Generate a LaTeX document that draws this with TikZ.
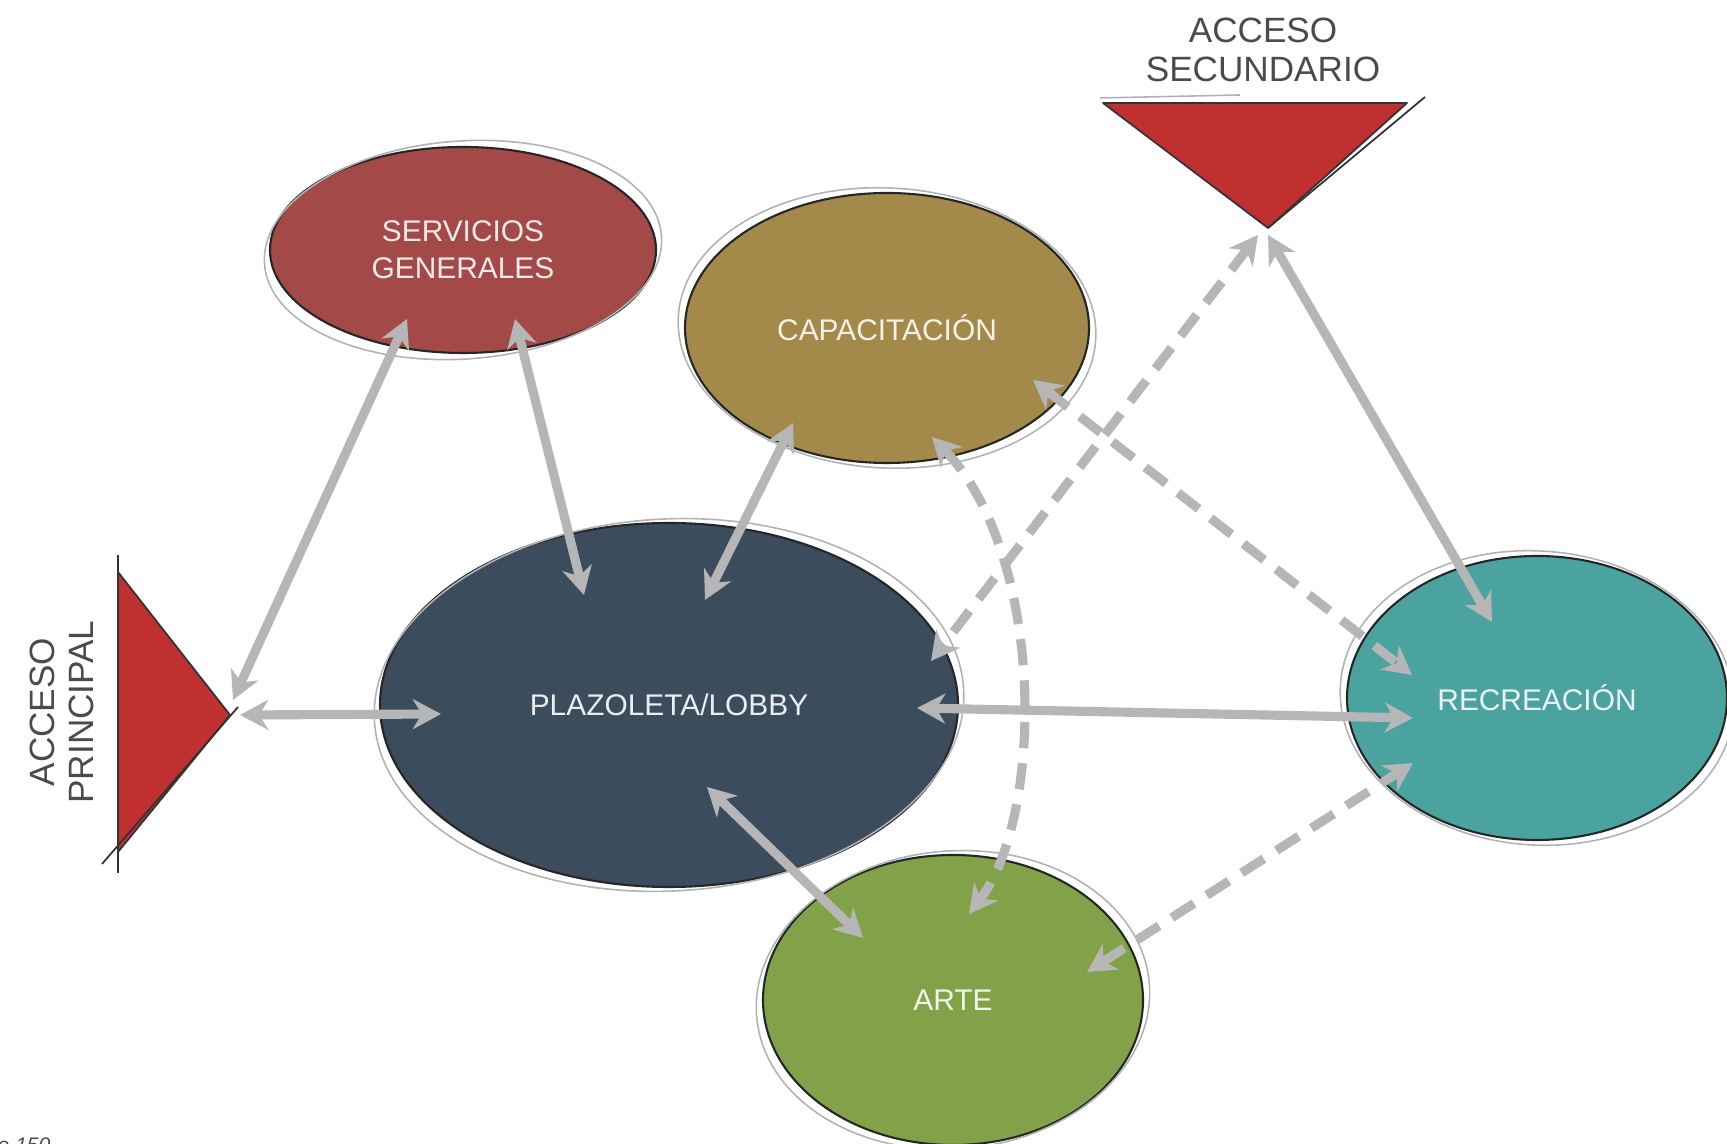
\documentclass[tikz,border=0pt]{standalone}
\usepackage{fontspec}
\setmainfont{Liberation Sans}
\usetikzlibrary{shapes.geometric, arrows.meta, calc}
\definecolor{SGRed}{RGB}{163,74,72}
\definecolor{CapOlive}{RGB}{163,138,75}
\definecolor{LobbySlate}{RGB}{59,76,92}
\definecolor{RecTeal}{RGB}{75,163,160}
\definecolor{ArtGreen}{RGB}{130,162,74}
\definecolor{AccRed}{RGB}{192,48,48}
\definecolor{FlowGrey}{RGB}{182,182,182}
\definecolor{LabelGrey}{RGB}{75,75,75}

\begin{document}
\begin{tikzpicture}[
          zone/.style={ellipse, draw=black!85, line width=0.6pt, inner sep=0pt,
                       align=center, font=\fontsize{8.5}{10.5}\selectfont},
          ring/.style={draw=black!30, line width=0.45pt},
          acc/.style={fill=AccRed, draw=black!80, line width=0.5pt, line join=round},
          lbl/.style={align=center, text=LabelGrey, font=\fontsize{10}{11.3}\selectfont},
          flow/.style={{Stealth[length=8pt,width=8.5pt,inset=2.5pt]}-{Stealth[length=8pt,width=8.5pt,inset=2.5pt]},
                       draw=FlowGrey, line width=2.6pt},
          dflow/.style={flow, dash pattern=on 7.5pt off 4.3pt}
        ]
        \useasboundingbox (0,0) rectangle (17.27,11.44);

        % zones
        \node[zone, fill=SGRed, text=white!88!SGRed, minimum width=3.86cm, minimum height=2.06cm]
              (serv) at (4.63, 8.94) {SERVICIOS\\GENERALES};
        \node[zone, fill=CapOlive, text=white!88!CapOlive, minimum width=4.04cm, minimum height=2.70cm]
              (capa) at (8.87, 8.16) {CAPACITACIÓN};
        \node[zone, fill=LobbySlate, text=white!90!LobbySlate, minimum width=5.78cm, minimum height=3.64cm]
              (plaza) at (6.69, 4.39) {PLAZOLETA/LOBBY};
        \node[zone, fill=RecTeal, text=white!88!RecTeal, minimum width=3.80cm, minimum height=2.84cm]
              (recre) at (15.37, 4.46) {RECREACIÓN};
        \node[zone, fill=ArtGreen, text=white!88!ArtGreen, minimum width=3.80cm, minimum height=2.90cm]
              (arte) at (9.53, 1.44) {ARTE};

        % sketch strokes round the zones
        \draw[ring, rotate around={4:(serv.center)}]  (serv.center)  ellipse [x radius=1.99, y radius=1.09];
        \draw[ring, rotate around={-3:(capa.center)}] (capa.center)  ellipse [x radius=2.09, y radius=1.40];
        \draw[ring, rotate around={3:(plaza.center)}] (plaza.center) ellipse [x radius=2.95, y radius=1.86];
        \draw[ring, rotate around={-4:(recre.center)}](recre.center) ellipse [x radius=1.97, y radius=1.47];
        \draw[ring, rotate around={5:(arte.center)}]  (arte.center)  ellipse [x radius=1.97, y radius=1.49];

        % accesses
        \coordinate (apxS) at (12.68, 9.16);
        \coordinate (apxP) at (2.30, 4.29);
        \draw[acc] (11.03,10.41) -- (14.07,10.41) -- (apxS) -- cycle;
        \draw[black!80, line width=0.5pt] (apxS) -- (14.25,10.47);
        \draw[ring] (11.00,10.46) -- (12.40,10.49);
        \draw[acc] (1.18,5.72) -- (apxP) -- (1.18,2.92) -- cycle;
        \draw[black!80, line width=0.5pt] (1.18,5.89) -- (1.18,2.71);
        \draw[black!80, line width=0.5pt] (1.02,2.80) -- (2.38,4.37);

        \node[lbl] (secLbl) at (12.63,10.94) {ACCESO\\SECUNDARIO};
        \node[lbl, rotate=90] (priLbl) at (0.62,4.32) {ACCESO\\PRINCIPAL};

        % flows
        \draw[flow]  ($(apxP)+(0.03,0.15)$) -- ($(serv)+(-0.56,-0.69)$);
        \draw[flow]  ($(apxP)+(0.10,0)$)    -- ($(plaza)+(-2.28,-0.09)$);
        \draw[flow]  ($(serv)+(0.52,-0.69)$) -- ($(plaza)+(-0.85,1.10)$);
        \draw[flow]  ($(capa)+(-0.94,-0.95)$) -- ($(plaza)+(0.36,1.05)$);
        \draw[dflow] ($(apxS)+(-0.10,-0.07)$) -- ($(plaza)+(2.62,0.44)$);
        \draw[flow]  ($(apxS)+(0.00,-0.07)$)  -- ($(recre)+(-0.45,0.76)$);
        \draw[dflow] ($(capa)+(1.46,-0.52)$)  -- ($(recre)+(-1.25,0.23)$);
        \draw[flow]  ($(plaza)+(2.48,-0.03)$) -- ($(recre)+(-1.24,-0.20)$);
        \draw[flow]  ($(plaza)+(0.38,-0.82)$) -- ($(arte)+(-0.90,0.62)$);
        \draw[dflow] ($(arte)+(1.34,0.28)$)   -- ($(recre)+(-1.24,-0.65)$);
        \draw[dflow] ($(capa)+(0.45,-1.09)$) .. controls (10.45,5.9) and (10.45,3.3) .. ($(arte)+(0.16,0.86)$);

        \node[anchor=north west, inner sep=0pt, text=black!70,
              font=\fontsize{6}{7}\selectfont\itshape] (pgNum) at (-0.03,0.07) {e 150};
      \end{tikzpicture}
\end{document}
